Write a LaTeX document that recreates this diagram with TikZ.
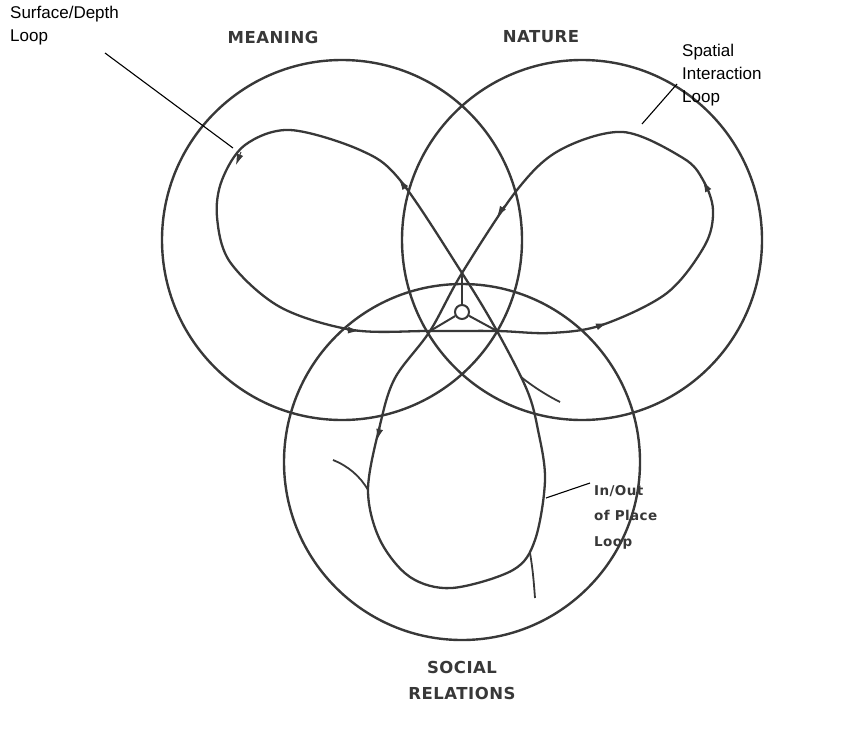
\documentclass[tikz,border=0pt]{standalone}
\usepackage{fontspec}
\setmainfont{Liberation Sans}
\newfontfamily\scanfont[LetterSpace=3]{DejaVu Sans}
\usetikzlibrary{arrows.meta}
\definecolor{scanink}{HTML}{383838}

\begin{document}
\begin{tikzpicture}[x=1pt, y=-1pt,
    ring/.style={draw=scanink, line width=2.4pt, circle, inner sep=0pt},
    trefoil/.style={draw=scanink, line width=2.3pt},
    flowtip/.style={draw=scanink, line width=1pt, -{Latex[length=11pt, width=7pt]}},
    callout/.style={draw=black, line width=1.1pt},
    note/.style={font=\fontsize{17}{23}\selectfont, align=left, anchor=north west, inner sep=0pt},
    sphere/.style={font=\scanfont\bfseries\fontsize{16.5}{26}\selectfont, text=scanink, align=center, inner sep=0pt}]
  \useasboundingbox (0,0) rectangle (846,731);

  % the three spheres
  \node[ring, minimum size=360pt] (meaning) at (342,240) {};
  \node[ring, minimum size=360pt] (nature) at (582,240) {};
  \node[ring, minimum size=356pt] (social) at (462,462) {};

  \node[sphere] (meaningtxt) at (273,37) {MEANING};
  \node[sphere] (naturetxt) at (541,37) {NATURE};
  \node[sphere] (socialtxt) at (462,680) {SOCIAL\\RELATIONS};

  % the trefoil of loops
  \draw[trefoil] plot[smooth cycle, tension=0.55] coordinates {
    (462,273) (400,180) (360,150) (290,130) (245,145) (222,180) (217,217)
    (230,262) (280,307) (353,330) (430,331) (497,331) (550,333) (602,325)
    (667,293) (705,245) (713,210) (703,180) (683,158) (623,132) (560,150)
    (517,190) (462,273) (430,331) (395,378) (380,425) (368,490) (380,540)
    (410,577) (452,588) (513,570) (535,540) (545,480) (538,430) (527,390)
    (497,331)};

  % little side paths
  \draw[trefoil, line width=1.8pt] (333,460) .. controls (348,466) and (360,476) .. (368,490);
  \draw[trefoil, line width=1.8pt] (521,377) .. controls (535,388) and (548,396) .. (560,402);
  \draw[trefoil, line width=1.8pt] (530,553) .. controls (533,570) and (534,585) .. (535,598);

  % the hub
  \node[draw=scanink, line width=2pt, circle, minimum size=14pt, inner sep=0pt] (hub) at (462,312) {};
  \coordinate (apex) at (462,273);
  \coordinate (leftfoot) at (430,331);
  \coordinate (rightfoot) at (497,331);
  \draw[trefoil, line width=2pt] (hub) -- (apex);
  \draw[trefoil, line width=2pt] (hub) -- (leftfoot);
  \draw[trefoil, line width=2pt] (hub) -- (rightfoot);

  % direction marks
  \draw[flowtip] (406,189) -- (399,179);
  \draw[flowtip] (241,152) -- (236,165);
  \draw[flowtip] (347,330) -- (359,331);
  \draw[flowtip] (596,327) -- (607,323);
  \draw[flowtip] (709,192) -- (703,181);
  \draw[flowtip] (504,206) -- (497,217);
  \draw[flowtip] (380,428) -- (377,440);

  % callouts
  \node[note] (surface) at (10,6) {Surface/Depth\\Loop};
  \node[note] (spatial) at (682,44) {Spatial\\Interaction\\Loop};
  \node[note, font=\scanfont\bfseries\fontsize{13.5}{25.5}\selectfont, text=scanink] (inout) at (594,485) {In/Out\\of Place\\Loop};
  \coordinate (surfacetip) at (233,148);
  \coordinate (spatialtip) at (642,124);
  \coordinate (inouttip) at (546,498);
  \coordinate (inoutend) at (590,483);
  \draw[callout] (105,53) -- (surfacetip);
  \draw[callout] (677,84) -- (spatialtip);
  \draw[callout] (inoutend) -- (inouttip);
\end{tikzpicture}
\end{document}
